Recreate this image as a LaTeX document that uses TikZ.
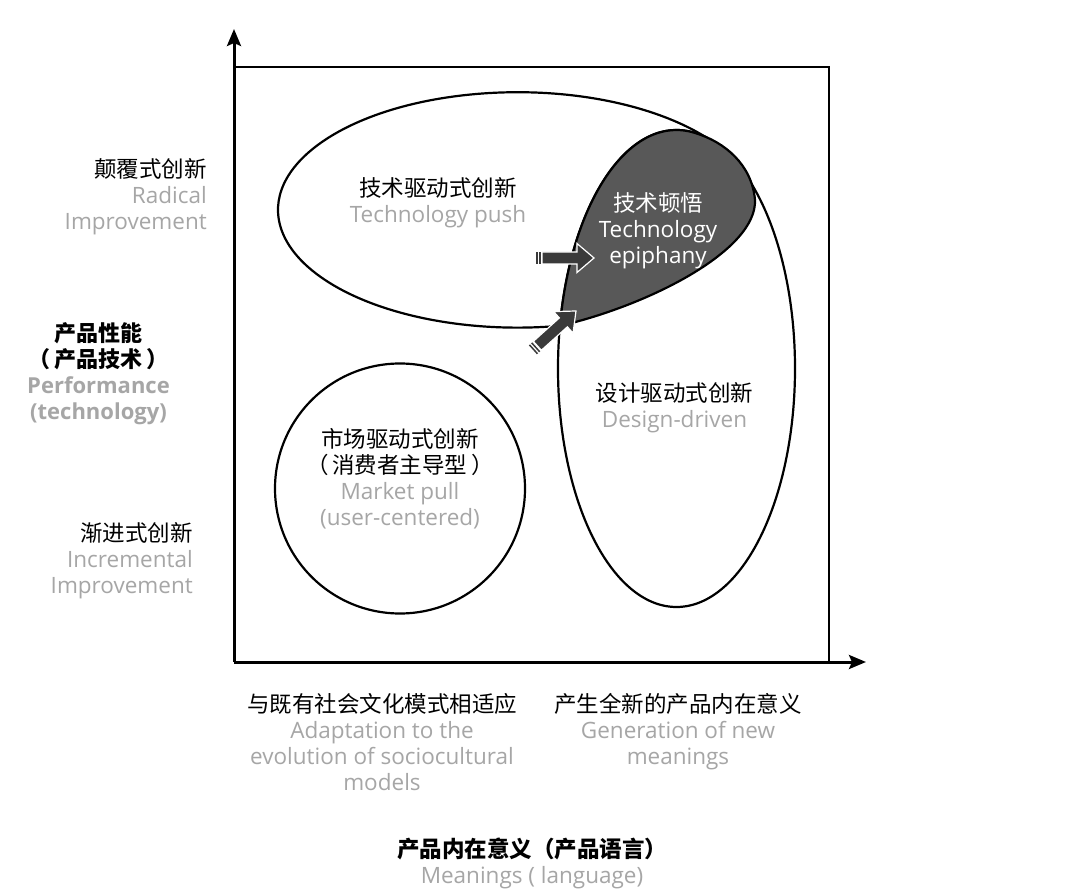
\documentclass[tikz,border=0pt]{standalone}
\usepackage{fontspec}
\setmainfont{Open Sans}
\newfontfamily\cjk{Noto Sans CJK SC}
\usetikzlibrary{arrows.meta}
\definecolor{lbl}{HTML}{A6A6A6}
\definecolor{blobfill}{HTML}{585858}
\definecolor{arrfill}{HTML}{3A3A3A}
\begin{document}
\begin{tikzpicture}[x=1pt,y=-1pt,
  txt/.style={font=\fontsize{22.5}{26}\selectfont, inner sep=0pt, align=center},
  outline/.style={draw=black, line width=2.2pt},
  axis/.style={line width=3pt, -{Stealth[length=17pt,width=14pt,inset=3pt]}},
  frame/.style={line width=2.5pt},
  barrow/.pic={
    \fill[arrfill] (-58,-6) rectangle (-56.5,6);
    \fill[arrfill] (-55,-6) rectangle (-53.5,6);
    \filldraw[fill=arrfill, draw=white, line width=1.2pt]
      (-52,-6) -- (-17,-6) -- (-17,-14.5) -- (0,0) -- (-17,14.5) -- (-17,6) -- (-52,6) -- cycle;
  }
]
\useasboundingbox (0,0) rectangle (1080,890);
\fill[white] (0,0) rectangle (1080,890);

% axes and frame
\coordinate (O) at (234,662);
\coordinate (ytip) at (234,29);
\coordinate (xtip) at (866,662);
\coordinate (TL) at (234,67);
\coordinate (TR) at (829,67);
\coordinate (BR) at (829,662);
\draw[frame] (TL) -- (TR) -- (BR);
\draw[axis] (O) -- (ytip);
\draw[axis] (O) -- (xtip);

% technology push ellipse (part hidden by the epiphany blob)
\draw[outline] (753.4,189.5) arc[start angle=-10, end angle=-280.5, x radius=239.5, y radius=117.7];

% market pull circle
\draw[outline] (400,488.5) circle[radius=125];

% design-driven ellipse
\draw[outline] (676.5,368.5) ellipse[x radius=118.5, y radius=238.5];

% technology epiphany blob
\filldraw[fill=blobfill, draw=black, line width=2.2pt]
  (559.9,325.9) arc[start angle=190.3, end angle=279, x radius=118.5, y radius=238.5]
  .. controls (725,142) and (752,165) .. (755,200)
  .. controls (757,250) and (650,305) .. (559.9,325.9) -- cycle;

% block arrows
\pic at (594,258) {barrow};
\pic[rotate=42] at (576,311) {barrow};

% texts
\node[txt, anchor=north] (tp) at (438,177)
  {{\cjk 技术驱动式创新}\\\textcolor{lbl}{Technology push}};
\node[txt, anchor=north, text=white] (te) at (658,192)
  {{\cjk 技术顿悟}\\Technology\\epiphany};
\node[txt, anchor=north] (dd) at (674.5,382)
  {{\cjk 设计驱动式创新}\\\textcolor{lbl}{Design-driven}};
\node[txt, anchor=north] (mp) at (400,428)
  {{\cjk 市场驱动式创新}\\{\cjk （\,消费者主导型\,）}\\\textcolor{lbl}{Market pull}\\\textcolor{lbl}{(user-centered)}};

\node[txt, anchor=north east, align=right] (rad) at (207,158)
  {{\cjk 颠覆式创新}\\\textcolor{lbl}{Radical}\\\textcolor{lbl}{Improvement}};
\node[txt, anchor=north, font=\fontsize{22}{26}\selectfont\bfseries] (perf) at (98.5,322)
  {{\cjk\bfseries 产品性能}\\{\cjk\bfseries （\,产品技术\,）}\\\textcolor{lbl}{Performance}\\\textcolor{lbl}{(technology)}};
\node[txt, anchor=north east, align=right] (inc) at (193,522)
  {{\cjk 渐进式创新}\\\textcolor{lbl}{Incremental}\\\textcolor{lbl}{Improvement}};

\node[txt, anchor=north] (adapt) at (382,693)
  {{\cjk 与既有社会文化模式相适应}\\\textcolor{lbl}{Adaptation to the}\\\textcolor{lbl}{evolution of sociocultural}\\\textcolor{lbl}{models}};
\node[txt, anchor=north] (gen) at (678,693)
  {{\cjk 产生全新的产品内在意义}\\\textcolor{lbl}{Generation of new}\\\textcolor{lbl}{meanings}};
\node[txt, anchor=north] (mean) at (532,838)
  {{\cjk\bfseries 产品内在意义（产品语言）}\\\textcolor{lbl}{Meanings ( language)}};
\end{tikzpicture}
\end{document}
